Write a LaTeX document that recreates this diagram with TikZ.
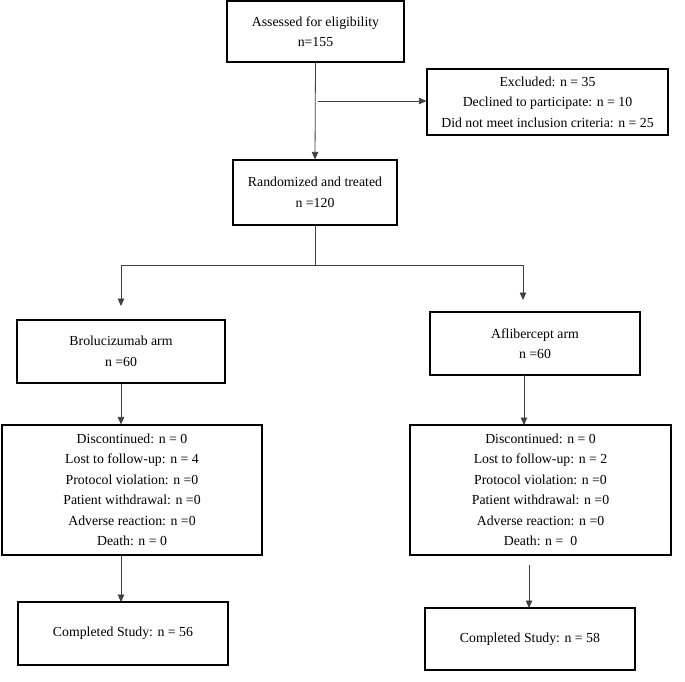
\documentclass[tikz,border=0pt]{standalone}
\usepackage{fontspec}
\setmainfont{Liberation Serif}
\usetikzlibrary{arrows.meta}
\begin{document}
\begin{tikzpicture}[x=1pt,y={(0pt,-1pt)},
  box/.style={draw=black,line width=1.2pt,align=center,inner sep=0pt,
    font=\fontsize{13.8}{20.5}\selectfont},
  arr/.style={draw=black!75,line width=0.8pt,-{Triangle[width=6.5pt,length=7.5pt]}},
  ln/.style={draw=black!75,line width=0.8pt}]
\useasboundingbox (0,0) rectangle (685,681);
\node[box,minimum width=177pt,minimum height=61pt] (a) at (315.5,31.5) {Assessed for eligibility\\n=155};
\node[box,minimum width=241pt,minimum height=66pt] (ex) at (547.5,102) {Excluded: n = 35\\Declined to participate: n = 10\\Did not meet inclusion criteria: n = 25};
\node[box,minimum width=164pt,minimum height=65pt] (r) at (315,192.5) {Randomized and treated\\n =120};
\node[box,minimum width=208pt,minimum height=63pt] (b) at (121,351.5) {Brolucizumab arm\\n =60};
\node[box,minimum width=210pt,minimum height=63pt] (af) at (535,343.5) {Aflibercept arm\\n =60};
\node[box,minimum width=260pt,minimum height=130pt] (dl) at (132,490) {Discontinued: n = 0\\Lost to follow-up: n = 4\\Protocol violation: n =0\\Patient withdrawal: n =0\\Adverse reaction: n =0\\Death: n = 0};
\node[box,minimum width=261pt,minimum height=130pt] (dr) at (540.5,490) {Discontinued: n = 0\\Lost to follow-up: n = 2\\Protocol violation: n =0\\Patient withdrawal: n =0\\Adverse reaction: n =0\\Death: n =~~0};
\node[box,minimum width=210pt,minimum height=63pt] (cl) at (123,633.5) {Completed Study: n = 56};
\node[box,minimum width=210pt,minimum height=62pt] (cr) at (530,639) {Completed Study: n = 58};
% connectors
\coordinate (exs) at (318,101);
\coordinate (j) at (315,265);
\coordinate (jl) at (121,265);
\coordinate (jr) at (523,265);
\coordinate (tl) at (121,306);
\coordinate (tr) at (523,300);
\coordinate (afs) at (524,375);
\coordinate (drt) at (524,425);
\coordinate (lb) at (121,555);
\coordinate (lt) at (121,602);
\coordinate (rs) at (529,565);
\coordinate (rt) at (529,608);
\draw[arr] (a.south) -- (r.north);
\draw[arr] (exs) -- (exs -| ex.west);
\draw[ln] (r.south) -- (j);
\draw[ln] (jl) -- (jr);
\draw[arr] (jl) -- (tl);
\draw[arr] (jr) -- (tr);
\draw[arr] (b.south) -- (b.south |- dl.north);
\draw[arr] (afs) -- (drt);
\draw[arr] (lb) -- (lt);
\draw[arr] (rs) -- (rt);
\end{tikzpicture}
\end{document}
